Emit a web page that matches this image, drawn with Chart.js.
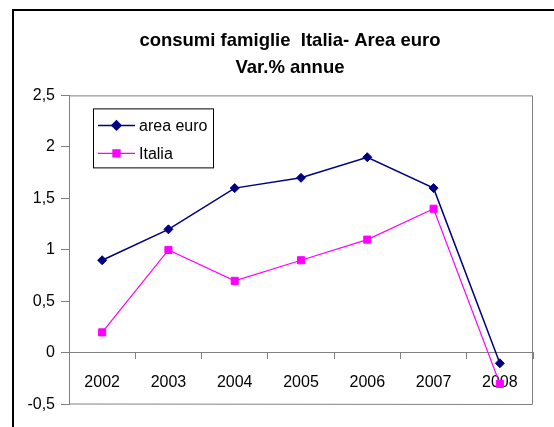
<!DOCTYPE html>
<html>
<head>
<meta charset="utf-8">
<script src="https://cdn.jsdelivr.net/npm/chart.js@4/dist/chart.umd.min.js"></script>
<style>
  html, body { margin: 0; padding: 0; background: #fff; width: 554px; height: 427px; overflow: hidden; }
  #frame { position: absolute; left: 12px; top: 9px; width: 600px; height: 500px; border-top: 2px solid #000; border-left: 2px solid #000; }
  #chart { position: absolute; left: 12px; top: 10px; }
</style>
</head>
<body>
<div id="frame"></div>
<canvas id="chart" width="556" height="417"></canvas>
<script>
// years on the category axis
const years = ['2002', '2003', '2004', '2005', '2006', '2007', '2008'];
// annual % change in household consumption
const areaEuro = [0.9, 1.2, 1.6, 1.7, 1.9, 1.6, -0.1];
const italia = [0.2, 1.0, 0.7, 0.9, 1.1, 1.4, -0.3];
// value axis
const yMin = -0.5;
const yMax = 2.5;
const yStep = 0.5;

const FONT = 'Liberation Sans, Arial, sans-serif';

// grey border round the plot area (left side is the y axis line)
const plotFrame = {
  id: 'plotFrame',
  beforeDatasetsDraw(chart) {
    const { ctx, chartArea: a } = chart;
    ctx.save();
    ctx.strokeStyle = '#808080';
    ctx.lineWidth = 1;
    ctx.beginPath();
    ctx.moveTo(a.left, a.top + 0.5);
    ctx.lineTo(a.right - 0.5, a.top + 0.5);
    ctx.lineTo(a.right - 0.5, a.bottom);
    ctx.lineTo(a.left, a.bottom - 0.5);
    ctx.stroke();
    ctx.restore();
  }
};

// boxed legend sitting inside the plot, top left
const boxLegend = {
  id: 'boxLegend',
  afterDraw(chart) {
    const { ctx, chartArea: a } = chart;
    const x0 = a.left + 24, y0 = a.top + 13;
    ctx.save();
    ctx.fillStyle = '#fff';
    ctx.fillRect(x0, y0, 120, 59);
    ctx.strokeStyle = '#000';
    ctx.lineWidth = 1;
    ctx.strokeRect(x0 + 0.5, y0 + 0.5, 120, 59);
    chart.data.datasets.forEach((ds, i) => {
      const y = y0 + 17 + i * 28;
      ctx.strokeStyle = ds.borderColor;
      ctx.lineWidth = ds.borderWidth;
      ctx.beginPath();
      ctx.moveTo(x0 + 5, y);
      ctx.lineTo(x0 + 42, y);
      ctx.stroke();
      ctx.fillStyle = ds.pointBackgroundColor;
      ctx.strokeStyle = ds.pointBorderColor;
      Chart.helpers.drawPoint(ctx, {
        pointStyle: ds.pointStyle, radius: ds.pointRadius, rotation: 0, borderWidth: 1
      }, x0 + 23.5, y);
      ctx.fillStyle = '#000';
      ctx.font = '16px ' + FONT;
      ctx.textBaseline = 'middle';
      ctx.textAlign = 'left';
      ctx.fillText(ds.label, x0 + 46, y + 1);
    });
    ctx.restore();
  }
};

new Chart(document.getElementById('chart').getContext('2d'), {
  type: 'line',
  data: {
    labels: years,
    datasets: [
      {
        label: 'area euro',
        data: areaEuro,
        borderColor: '#000080',
        borderWidth: 1.5,
        pointStyle: 'rectRot',
        pointRadius: 4.5,
        pointBackgroundColor: '#000080',
        pointBorderColor: '#000080',
        pointBorderWidth: 1,
        tension: 0
      },
      {
        label: 'Italia',
        data: italia,
        borderColor: '#FF00FF',
        borderWidth: 1.25,
        pointStyle: 'rect',
        pointRadius: 5,
        pointBackgroundColor: '#FF00FF',
        pointBorderColor: '#FF00FF',
        pointBorderWidth: 1,
        tension: 0
      }
    ]
  },
  options: {
    responsive: false,
    animation: false,
    layout: { padding: { left: 0, right: 0, top: 0, bottom: 22.5 } },
    plugins: {
      legend: { display: false },
      tooltip: { enabled: false },
      title: {
        display: true,
        text: ['consumi famiglie  Italia- Area euro', 'Var.% annue'],
        color: '#000',
        font: { family: FONT, size: 18.5, weight: 'bold', lineHeight: 1.47 },
        padding: { top: 17.5, bottom: 13.5 }
      }
    },
    scales: {
      x: {
        type: 'category',
        position: { y: 0 },
        offset: true,
        grid: { offset: true, drawOnChartArea: false, drawTicks: true, tickLength: 6, color: '#808080' },
        border: { display: true, color: '#808080', width: 1 },
        ticks: { color: '#000', padding: 14, maxRotation: 0, font: { family: FONT, size: 16 } }
      },
      y: {
        min: yMin,
        max: yMax,
        grid: { drawOnChartArea: false, drawTicks: true, tickLength: 8, color: '#808080' },
        border: { display: true, color: '#808080', width: 1 },
        ticks: {
          stepSize: yStep,
          color: '#000',
          padding: 6,
          font: { family: FONT, size: 16 },
          callback: v => String(v).replace('.', ',')
        },
        afterFit(scale) { scale.width = 57; }
      },
      // empty right-hand strip so the title stays centred on the whole frame
      yRight: {
        position: 'right',
        min: yMin,
        max: yMax,
        grid: { display: false },
        border: { display: false },
        ticks: { display: false },
        afterFit(scale) { scale.width = 35; }
      }
    }
  },
  plugins: [plotFrame, boxLegend]
});
</script>
</body>
</html>
